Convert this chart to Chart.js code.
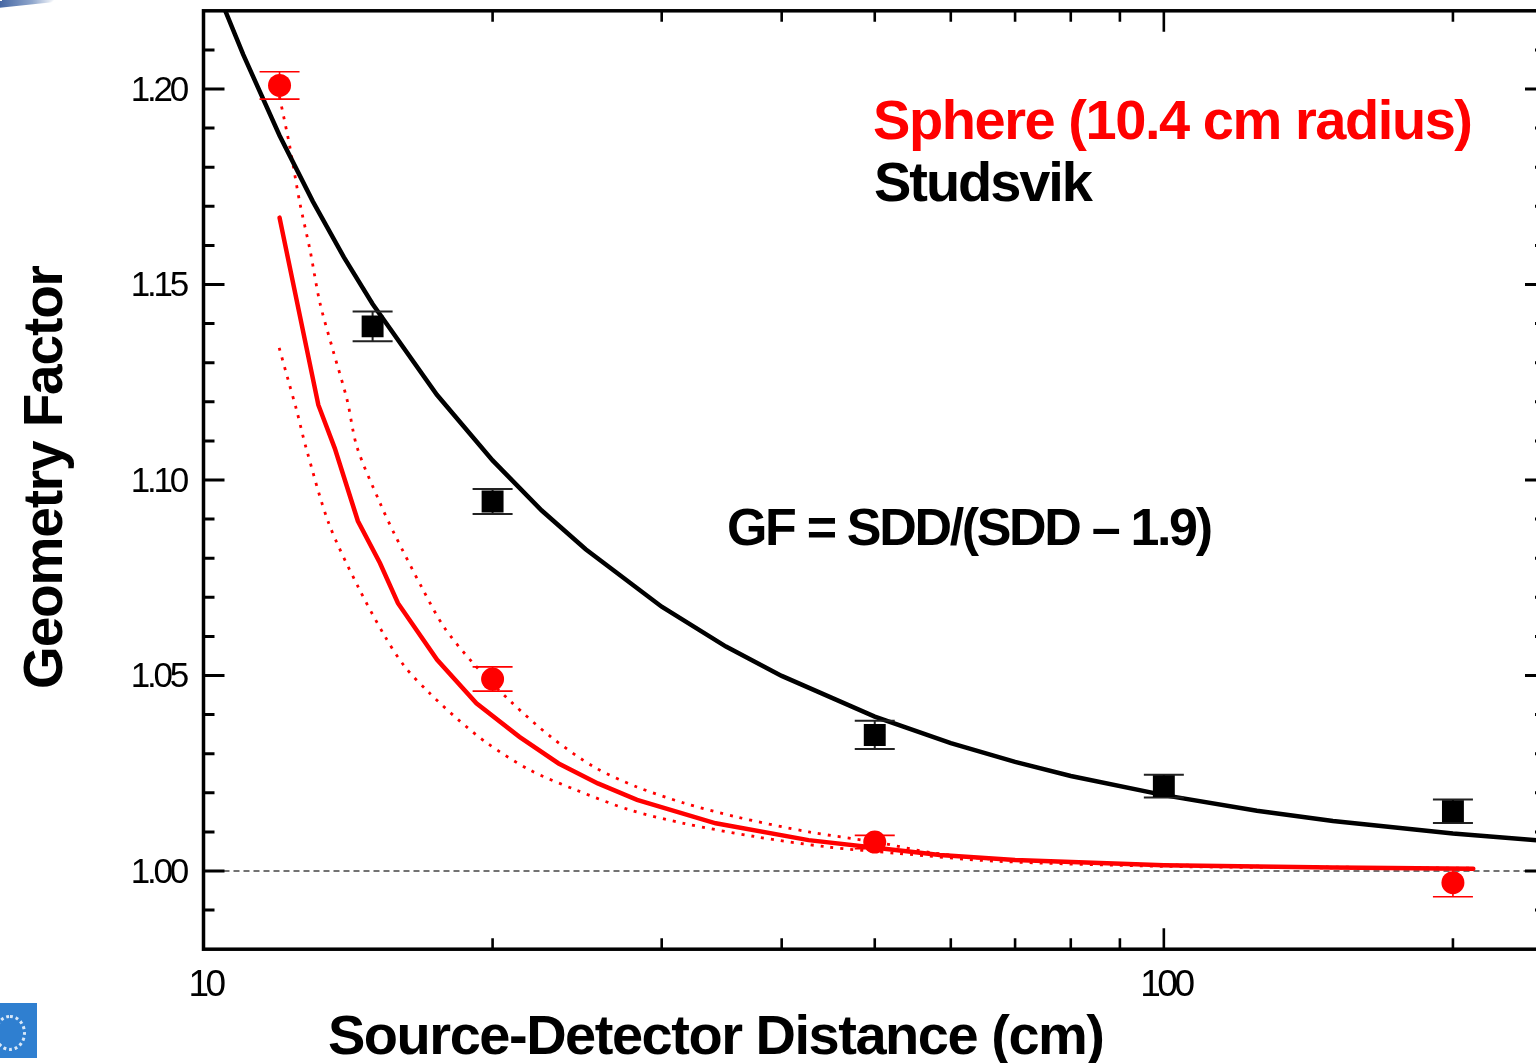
<!DOCTYPE html>
<html><head><meta charset="utf-8">
<script src="https://cdn.jsdelivr.net/npm/chart.js@4.4.1/dist/chart.umd.min.js"></script>
<style>
html,body{margin:0;padding:0;background:#fff;overflow:hidden;width:1536px;height:1063px;}
#wrap{position:absolute;left:0;top:0;width:1560px;height:1063px;}
#swoosh{position:absolute;left:-4px;top:-2px;width:60px;height:7px;background:linear-gradient(to right,#3d5f9e,#8fa6cc 60%,rgba(255,255,255,0));transform:skewY(-6deg);border-radius:0 0 40px 0;}
#logo{position:absolute;left:0;top:1003px;width:37px;height:55px;background:#2f7fd0;}
#logo div{position:absolute;left:-6px;top:12px;width:26px;height:30px;border:3px dotted #d8e8f8;border-radius:50%;}
</style></head><body>
<div id="wrap"><canvas id="c" width="1560" height="1063"></canvas></div>
<div id="swoosh"></div><div id="logo"><div></div></div>
<script>
// ---------------- DATA ----------------
const sphereDist = [12, 20, 50, 200];
const sphereGF   = [1.2009, 1.0491, 1.0074, 0.9970];
const sphereErr  = [0.0035, 0.0031, 0.0017, 0.0036];

const studsvikDist = [15, 20, 50, 100, 200];
const studsvikGF   = [1.1393, 1.0945, 1.0348, 1.0217, 1.0153];
const studsvikErr  = [0.0038, 0.0032, 0.0036, 0.0029, 0.0030];

// black fit curve GF = SDD/(SDD-1.9)
const fitDist = [10.4, 10.5, 11, 12, 13, 14, 15, 17.5, 20, 22.5, 25, 30, 35, 40, 50, 60, 70, 80, 100, 125, 150, 200, 250];
const fitGF   = [1.2235, 1.2209, 1.2088, 1.1881, 1.1712, 1.1570, 1.1450, 1.1218, 1.1050, 1.0922, 1.0823, 1.0676, 1.0574, 1.0499, 1.0395, 1.0327, 1.0279, 1.0243, 1.0194, 1.0154, 1.0128, 1.0096, 1.0077];

// red solid model curve
const modelDist = [12, 13.17, 13.70, 14.48, 15.27, 15.94, 17.51, 19.24, 21.33, 23.43, 25.74, 28.28, 34.15, 42.66, 50.62, 58.45, 70, 100, 150, 210];
const modelGF   = [1.1671, 1.1192, 1.1081, 1.0895, 1.0787, 1.0685, 1.0540, 1.0429, 1.0343, 1.0275, 1.0224, 1.0182, 1.0122, 1.0079, 1.0058, 1.0041, 1.0028, 1.0015, 1.0009, 1.0006];

// red dotted upper band
const upperDist = [12.0, 12.30, 12.60, 12.91, 13.22, 13.64, 14.11, 14.45, 15.27, 15.79, 16.93, 17.80, 19.08, 20.96, 23.0, 25.51, 28.27, 31.64, 35.93, 42.70, 50.62, 57.62, 67, 100, 150, 210];
const upperGF   = [1.1980, 1.1852, 1.1708, 1.1588, 1.1453, 1.1332, 1.1205, 1.1084, 1.0941, 1.0864, 1.0719, 1.0624, 1.0532, 1.0430, 1.0343, 1.0266, 1.0215, 1.0174, 1.0138, 1.0100, 1.0072, 1.0046, 1.0030, 1.0016, 1.0010, 1.0007];

// red dotted lower band
const lowerDist = [11.99, 12.25, 12.50, 12.78, 13.5, 14.5, 15.46, 16.21, 17.21, 18.44, 19.74, 21.88, 24.44, 27.80, 31.61, 37.52, 44.48, 52.85, 67, 100, 150, 210];
const lowerGF   = [1.1338, 1.1256, 1.1179, 1.1085, 1.0890, 1.0725, 1.0599, 1.0522, 1.0454, 1.0386, 1.0327, 1.0258, 1.0207, 1.0156, 1.0122, 1.0088, 1.0062, 1.0045, 1.0025, 1.0012, 1.0008, 1.0005];

const refDist = [10, 250];
const refGF   = [1.0, 1.0];

const xMin = 10, xMax = 250, yMin = 0.98, yMax = 1.22;
const xMajorTicks = [10, 100];
const xMinorTicks = [20, 30, 40, 50, 60, 70, 80, 90, 200];
const xTickLabels = ['10', '100'];
const yMajorTicks = [1.00, 1.05, 1.10, 1.15, 1.20];
const yMinorTicks = [0.99, 1.01, 1.02, 1.03, 1.04, 1.06, 1.07, 1.08, 1.09, 1.11, 1.12, 1.13, 1.14, 1.16, 1.17, 1.18, 1.19, 1.21];
const yTickLabels = ['1.00', '1.05', '1.10', '1.15', '1.20'];

const legendLabels = ['Sphere (10.4 cm radius)', 'Studsvik'];
const formulaText = 'GF = SDD/(SDD \u2013 1.9)';
const xTitle = 'Source-Detector Distance (cm)';
const yTitle = 'Geometry Factor';
// --------------------------------------

const RED = '#ff0000', BLACK = '#000000';
const FONT = "'Liberation Sans', Arial, Helvetica, sans-serif";
const pts = (xs, ys) => xs.map((x, i) => ({x: x, y: ys[i]}));

function fitText(ctx, text, font, x, y, width) {
  ctx.font = font;
  ctx.letterSpacing = '0px';
  const w = ctx.measureText(text).width;
  const ls = (width - w) / (text.length - 1);
  ctx.letterSpacing = ls + 'px';
  ctx.textAlign = 'left';
  ctx.fillText(text, x, y);
  ctx.letterSpacing = '0px';
}

const errorBars = {
  id: 'errorBars',
  beforeDatasetDraw(chart, args) {
    const ds = chart.data.datasets[args.index];
    if (!ds.errors) return;
    const xs = chart.scales.x, ys = chart.scales.y, ctx = chart.ctx;
    ctx.save();
    ctx.strokeStyle = ds.errColor;
    ctx.lineWidth = ds.errWidth;
    ds.data.forEach((p, i) => {
      const px = xs.getPixelForValue(p.x);
      const y1 = ys.getPixelForValue(p.y + ds.errors[i]);
      const y2 = ys.getPixelForValue(p.y - ds.errors[i]);
      ctx.beginPath();
      ctx.moveTo(px, y1); ctx.lineTo(px, y2);
      ctx.moveTo(px - 20, y1); ctx.lineTo(px + 20, y1);
      ctx.moveTo(px - 20, y2); ctx.lineTo(px + 20, y2);
      ctx.stroke();
    });
    ctx.restore();
  }
};

const frame = {
  id: 'frame',
  afterDraw(chart) {
    const ctx = chart.ctx, a = chart.chartArea, xs = chart.scales.x, ys = chart.scales.y;
    ctx.save();
    ctx.strokeStyle = BLACK;
    ctx.lineWidth = 3.5;
    ctx.strokeRect(a.left, a.top, a.right - a.left, a.bottom - a.top);
    ctx.lineCap = 'butt';
    const xt = (v, len) => {
      const p = xs.getPixelForValue(v);
      ctx.beginPath();
      ctx.moveTo(p, a.bottom); ctx.lineTo(p, a.bottom - len);
      ctx.moveTo(p, a.top); ctx.lineTo(p, a.top + len);
      ctx.stroke();
    };
    ctx.lineWidth = 2.6;
    xMinorTicks.forEach(v => xt(v, 11));
    xMajorTicks.forEach(v => xt(v, 21));
    const yt = (v, len) => {
      const p = ys.getPixelForValue(v);
      ctx.beginPath();
      ctx.moveTo(a.left, p); ctx.lineTo(a.left + len, p);
      ctx.moveTo(a.right, p); ctx.lineTo(a.right - len, p);
      ctx.stroke();
    };
    ctx.lineWidth = 3;
    yMinorTicks.forEach(v => yt(v, 11));
    yMajorTicks.forEach(v => yt(v, 21));

    // tick labels
    ctx.fillStyle = BLACK;
    ctx.font = '35px ' + FONT;
    ctx.letterSpacing = '-3.2px';
    ctx.textAlign = 'right';
    ctx.textBaseline = 'middle';
    yMajorTicks.forEach((v, i) => {
      ctx.fillText(yTickLabels[i], 186, ys.getPixelForValue(v) + 2);
    });
    ctx.font = '37px ' + FONT;
    ctx.letterSpacing = '-3.5px';
    ctx.textAlign = 'center';
    xMajorTicks.forEach((v, i) => {
      ctx.fillText(xTickLabels[i], xs.getPixelForValue(v) + 2, 986);
    });
    ctx.letterSpacing = '0px';

    // texts
    ctx.textBaseline = 'alphabetic';
    ctx.fillStyle = RED;
    fitText(ctx, legendLabels[0], 'bold 56px ' + FONT, 873, 139, 600);
    ctx.fillStyle = BLACK;
    fitText(ctx, legendLabels[1], 'bold 56px ' + FONT, 874, 201, 219);
    fitText(ctx, formulaText, 'bold 52px ' + FONT, 727, 545, 486);
    fitText(ctx, xTitle, 'bold 56px ' + FONT, 328, 1054, 777);
    ctx.save();
    ctx.translate(62, 689);
    ctx.rotate(-Math.PI / 2);
    fitText(ctx, yTitle, 'bold 55px ' + FONT, 0, 0, 424);
    ctx.restore();
    ctx.restore();
  }
};

new Chart(document.getElementById('c'), {
  type: 'scatter',
  data: {
    datasets: [
      { label: 'Sphere', data: pts(sphereDist, sphereGF), showLine: false,
        pointStyle: 'circle', pointRadius: 11.5, pointBackgroundColor: RED, pointBorderWidth: 0,
        errors: sphereErr, errColor: RED, errWidth: 1.6 },
      { label: 'Studsvik', data: pts(studsvikDist, studsvikGF), showLine: false,
        pointStyle: 'rect', pointRadius: 15.5, pointBackgroundColor: BLACK, pointBorderWidth: 0,
        errors: studsvikErr, errColor: '#222', errWidth: 2 },
      { label: 'fit', data: pts(fitDist, fitGF), showLine: true, borderColor: BLACK, borderWidth: 4.5,
        pointRadius: 0, tension: 0, clip: 0 },
      { label: 'model', data: pts(modelDist, modelGF), showLine: true, borderColor: RED, borderWidth: 4.5,
        pointRadius: 0, tension: 0, clip: 0, borderCapStyle: 'round' },
      { label: 'upper', data: pts(upperDist, upperGF), showLine: true, borderColor: RED, borderWidth: 2.8,
        borderDash: [3, 7], pointRadius: 0, tension: 0.3, clip: 0 },
      { label: 'lower', data: pts(lowerDist, lowerGF), showLine: true, borderColor: RED, borderWidth: 2.8,
        borderDash: [3, 7], pointRadius: 0, tension: 0.3, clip: 0 },
      { label: 'ref', data: pts(refDist, refGF), showLine: true, borderColor: '#444', borderWidth: 1.5,
        borderDash: [6, 4], pointRadius: 0, clip: 0 }
    ]
  },
  options: {
    responsive: false,
    devicePixelRatio: 1,
    animation: false,
    events: [],
    layout: { autoPadding: false, padding: { left: 203.5, top: 10.8, right: 14, bottom: 113.8 } },
    plugins: { legend: { display: false }, tooltip: { enabled: false } },
    scales: {
      x: { type: 'logarithmic', min: xMin, max: xMax, display: false },
      y: { type: 'linear', min: yMin, max: yMax, display: false }
    }
  },
  plugins: [errorBars, frame]
});
</script>
</body></html>
